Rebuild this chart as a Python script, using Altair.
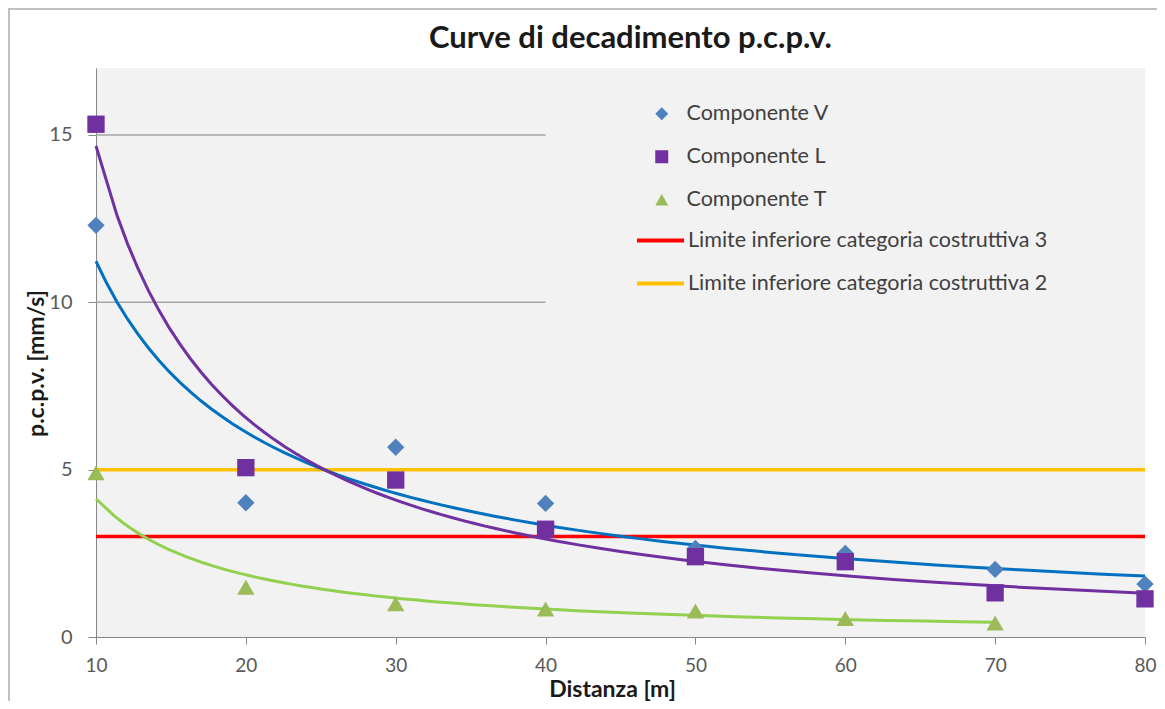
import altair as alt
import pandas as pd

# ---- data ----
distanze = [10, 20, 30, 40, 50, 60, 70, 80]
comp_v = [12.3, 4.01, 5.67, 3.99, 2.65, 2.5, 2.02, 1.58]
comp_l = [15.32, 5.06, 4.69, 3.22, 2.40, 2.25, 1.32, 1.14]
distanze_t = [10, 20, 30, 40, 50, 60, 70]
comp_t = [4.91, 1.49, 0.99, 0.84, 0.78, 0.55, 0.42]

serie = ["Componente V", "Componente L", "Componente T"]
marker_colori = ["#4F81BD", "#7030A0", "#9BBB59"]
trend_colori = ["#0070C0", "#7030A0", "#92D050"]
forme = ["diamond", "square", "triangle-up"]

limiti_nomi = ["Limite inferiore categoria costruttiva 3",
               "Limite inferiore categoria costruttiva 2"]
limiti_valori = [3, 5]
limiti_colori = ["#FF0000", "#FFC000"]

griglia_y = [5, 10, 15]
griglia_x_da = 10
griglia_x_a = 40

FONT = "Lato"

rows = []
for d, v in zip(distanze, comp_v):
    rows.append({"dist": d, "val": v, "serie": serie[0]})
for d, v in zip(distanze, comp_l):
    rows.append({"dist": d, "val": v, "serie": serie[1]})
for d, v in zip(distanze_t, comp_t):
    rows.append({"dist": d, "val": v, "serie": serie[2]})
punti_df = pd.DataFrame(rows)

limiti_df = pd.DataFrame({"nome": limiti_nomi, "val": limiti_valori})
griglia_df = pd.DataFrame({"val": griglia_y, "x1": [griglia_x_da] * 3, "x2": [griglia_x_a] * 3})

xscale = alt.Scale(domain=[10, 80], nice=False, zero=False)
yscale = alt.Scale(domain=[0, 17], nice=False)

xaxis = alt.Axis(values=distanze, title="Distanza [m]", grid=False, tickSize=7,
                 labelPadding=12, titlePadding=3, titleX=516, labelFlush=False,
                 domainColor="#868686", tickColor="#868686",
                 labelFont=FONT, labelFontSize=19, labelColor="#595959",
                 titleFont=FONT, titleFontSize=23, titleFontWeight="bold", titleColor="#1a1a1a")
yaxis = alt.Axis(values=[0, 5, 10, 15], title="p.c.p.v. [mm/s]", grid=False, tickSize=8,
                 labelPadding=16, titlePadding=0, titleY=295, labelFlush=False,
                 domainColor="#868686", tickColor="#868686",
                 labelFont=FONT, labelFontSize=20, labelColor="#595959",
                 titleFont=FONT, titleFontSize=23, titleFontWeight="bold", titleColor="#1a1a1a")

bordo = alt.Chart(alt.Data(values=[{"a": 1}])).mark_rect(
    fillOpacity=0, stroke="#BFBFBF", strokeWidth=2
).encode(x=alt.value(-87), x2=alt.value(1200), y=alt.value(-59), y2=alt.value(720))

griglia = alt.Chart(griglia_df).mark_rule(color="#A6A6A6", strokeWidth=1.5).encode(
    x=alt.X("x1:Q", scale=xscale, axis=xaxis),
    x2="x2:Q",
    y=alt.Y("val:Q", scale=yscale, axis=yaxis),
)

limiti = alt.Chart(limiti_df).mark_rule(strokeWidth=3.5).encode(
    y=alt.Y("val:Q", scale=yscale),
    stroke=alt.Stroke("nome:N", scale=alt.Scale(domain=limiti_nomi, range=limiti_colori),
                      legend=alt.Legend(title=None, orient="none", legendX=539, legendY=147,
                                        symbolType="stroke", symbolSize=2209, symbolStrokeWidth=4,
                                        labelOffset=2, rowPadding=7, padding=0,
                                        labelFont=FONT, labelFontSize=21.5, labelColor="#404040",
                                        labelLimit=700)),
)

trend_layers = []
for s, c in zip(serie, trend_colori):
    trend_layers.append(
        alt.Chart(punti_df).transform_filter(alt.datum.serie == s)
        .transform_regression("dist", "val", method="pow")
        .mark_line(color=c, strokeWidth=3)
        .encode(x=alt.X("dist:Q", scale=xscale), y=alt.Y("val:Q", scale=yscale))
    )

punti = alt.Chart(punti_df).mark_point(filled=True, opacity=1, size=300).encode(
    x=alt.X("dist:Q", scale=xscale),
    y=alt.Y("val:Q", scale=yscale),
    color=alt.Color("serie:N", scale=alt.Scale(domain=serie, range=marker_colori),
                    legend=alt.Legend(title=None, orient="none", legendX=555, legendY=35,
                                      symbolSize=169, labelOffset=14, rowPadding=20, padding=0,
                                      labelFont=FONT, labelFontSize=21.5, labelColor="#404040",
                                      symbolOpacity=1)),
    shape=alt.Shape("serie:N", scale=alt.Scale(domain=serie, range=forme)),
)

chart = alt.layer(bordo, griglia, limiti, *trend_layers, punti).properties(
    width=1049, height=569,
    autosize=alt.AutoSizeParams(type="none"),
    padding={"left": 88, "top": 60, "right": 12, "bottom": 64},
    background="white",
    title=alt.TitleParams("Curve di decadimento p.c.p.v.", font=FONT, fontSize=31,
                          fontWeight="bold", color="#1a1a1a", offset=-47, dx=10,
                          frame="group", anchor="middle"),
).configure_view(fill="#F2F2F2", stroke=None)

chart.save("out.html", embed_options={"renderer": "svg", "actions": False})
